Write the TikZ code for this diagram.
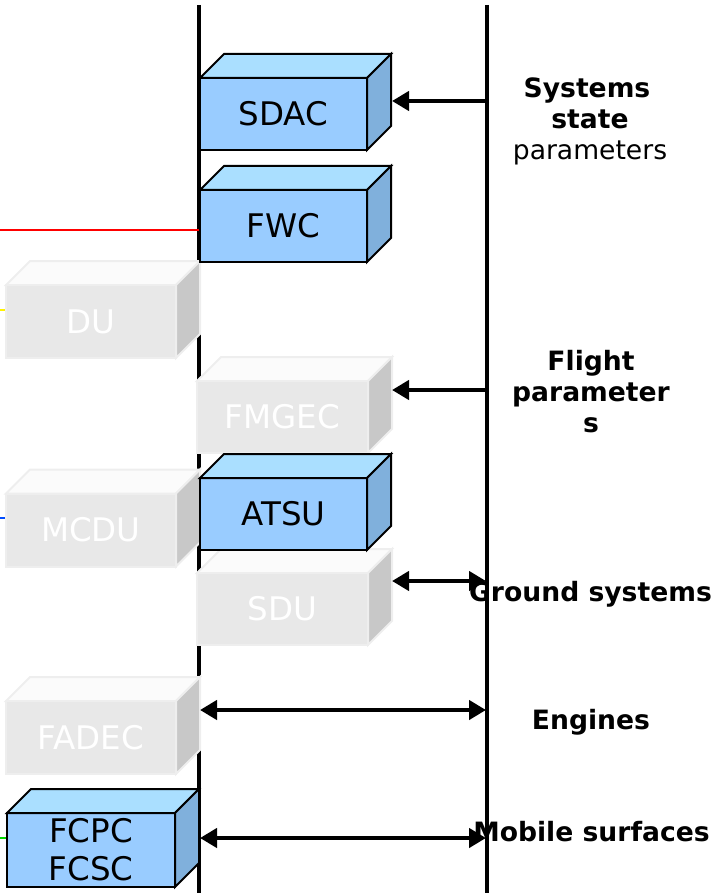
\documentclass[tikz,border=0pt]{standalone}
\usepackage{fontspec}
\setmainfont{DejaVu Sans}
\usetikzlibrary{arrows.meta,calc}

\definecolor{bluefront}{HTML}{99CCFF}
\definecolor{bluetop}{HTML}{AADFFF}
\definecolor{blueside}{HTML}{80B0DC}
\definecolor{greyfront}{HTML}{E8E8E8}
\definecolor{greytop}{HTML}{FBFBFB}
\definecolor{greyside}{HTML}{C8C8C8}
\definecolor{greyedge}{HTML}{EEEEEE}

\tikzset{
  bus/.style={line width=4.5pt},
  onearrow/.style={line width=4.5pt, arrows={-Triangle[length=17pt,width=19pt]}},
  twoarrow/.style={line width=4.5pt, arrows={Triangle[length=17pt,width=19pt]-Triangle[length=17pt,width=19pt]}},
  wire/.style={line width=2.5pt},
  boxfont/.style={font=\fontsize{32.5}{38}\selectfont},
  labelfont/.style={font=\fontsize{26.6}{31}\selectfont, anchor=base},
  front/.style={rectangle, outer sep=0pt, inner sep=0pt, line width=2pt, boxfont, align=center},
  bluefrontbox/.style={front, draw=black, fill=bluefront, text=black},
  greyfrontbox/.style={front, draw=greyedge, fill=greyfront, text=white},
  bluetopface/.style={draw=black, fill=bluetop, line width=2pt},
  bluesideface/.style={draw=black, fill=blueside, line width=2pt},
  greytopface/.style={draw=greyedge, fill=greytop, line width=2pt},
  greysideface/.style={draw=greyedge, fill=greyside, line width=2pt},
}

% top and side faces of a box whose front face is node #1; #2 is blue or grey
\newcommand\boxfaces[2]{%
  \draw[#2topface] (#1.north west) -- ($(#1.north west)+(24,-24)$)
    -- ($(#1.north east)+(24,-24)$) -- (#1.north east) -- cycle;
  \draw[#2sideface] (#1.north east) -- ($(#1.north east)+(24,-24)$)
    -- ($(#1.south east)+(24,-24)$) -- (#1.south east) -- cycle;
}

\begin{document}
\begin{tikzpicture}[x=1pt,y=-1pt]
\useasboundingbox (0,0) rectangle (711,893);

% buses
\coordinate (lt) at (199,5);
\coordinate (lb) at (199,893);
\coordinate (rt) at (487,5);
\coordinate (rb) at (487,893);
\draw[bus] (lt) -- (lb);
\draw[bus] (rt) -- (rb);

% incoming wires on the left
\coordinate (redstart) at (0,230);
\coordinate (redend) at (199,230);
\coordinate (yellowstart) at (0,310);
\coordinate (yellowend) at (8,310);
\coordinate (bluestart) at (0,518);
\coordinate (blueend) at (8,518);
\coordinate (greenstart) at (0,838);
\coordinate (greenend) at (9,838);
\draw[wire, red] (redstart) -- (redend);
\draw[wire, yellow] (yellowstart) -- (yellowend);
\draw[wire, blue!70!cyan] (bluestart) -- (blueend);
\draw[wire, green!85!black] (greenstart) -- (greenend);

% grey (inactive) units
\node[greyfrontbox, minimum width=170, minimum height=73] (du) at (91,321.5) {DU};
\boxfaces{du}{grey}
\node[greyfrontbox, minimum width=171, minimum height=72] (fmgec) at (282.5,417) {FMGEC};
\boxfaces{fmgec}{grey}
\node[greyfrontbox, minimum width=170, minimum height=73] (mcdu) at (91,530) {MCDU};
\boxfaces{mcdu}{grey}
\node[greyfrontbox, minimum width=171, minimum height=72] (sdu) at (282.5,609) {SDU};
\boxfaces{sdu}{grey}
\node[greyfrontbox, minimum width=170, minimum height=73] (fadec) at (91,737.5) {FADEC};
\boxfaces{fadec}{grey}

% blue (active) units
\node[bluefrontbox, minimum width=167, minimum height=72] (sdac) at (283.5,114) {SDAC};
\boxfaces{sdac}{blue}
\node[bluefrontbox, minimum width=167, minimum height=72] (fwc) at (283.5,226) {FWC};
\boxfaces{fwc}{blue}
\node[bluefrontbox, minimum width=167, minimum height=72] (atsu) at (283.5,514) {ATSU};
\boxfaces{atsu}{blue}
\node[bluefrontbox, minimum width=168, minimum height=74] (fcpc) at (91,850) {FCPC\\FCSC};
\boxfaces{fcpc}{blue}

% data flows from the right bus
\coordinate (sdacin) at (392,101);
\coordinate (sdacsrc) at (489,101);
\coordinate (fmgecin) at (392,390);
\coordinate (fmgecsrc) at (489,390);
\coordinate (sduin) at (392,581);
\coordinate (sdusrc) at (486,581);
\coordinate (enga) at (200,710);
\coordinate (engb) at (486,710);
\coordinate (surfa) at (200,838);
\coordinate (surfb) at (486,838);
\draw[onearrow] (sdacsrc) -- (sdacin);
\draw[onearrow] (fmgecsrc) -- (fmgecin);
\draw[twoarrow] (sduin) -- (sdusrc);
\draw[twoarrow] (enga) -- (engb);
\draw[twoarrow] (surfa) -- (surfb);

% parameter groups
\node[labelfont] (l1) at (587,98) {\bfseries Systems};
\node[labelfont] (l2) at (590,129) {\bfseries state};
\node[labelfont] (l3) at (590,160) {parameters};
\node[labelfont] (l4) at (591,370) {\bfseries Flight};
\node[labelfont] (l5) at (591,401) {\bfseries parameter};
\node[labelfont] (l6) at (591,432) {\bfseries s};
\node[labelfont] (l7) at (590.5,601) {\bfseries Ground systems};
\node[labelfont] (l8) at (591,729) {\bfseries Engines};
\node[labelfont] (l9) at (591.5,841) {\bfseries Mobile surfaces};
\end{tikzpicture}
\end{document}
